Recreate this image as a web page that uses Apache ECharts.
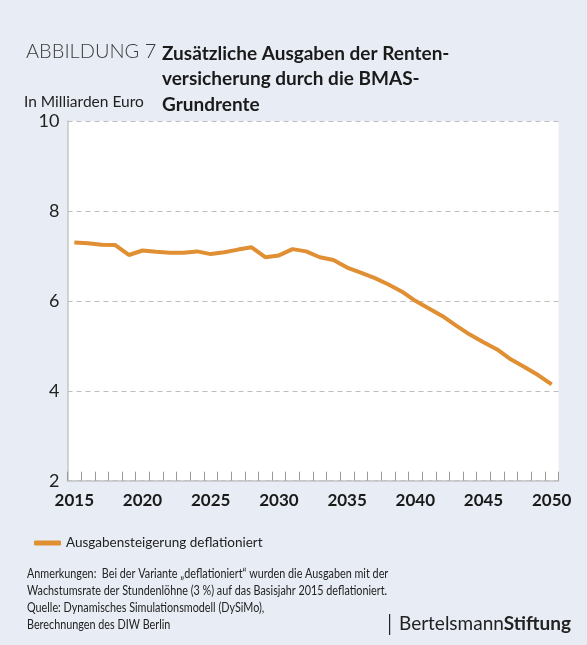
<!DOCTYPE html>
<html>
<head>
<meta charset="UTF-8">
<title>Abbildung 7</title>
<script src="https://cdn.jsdelivr.net/npm/echarts@6/dist/echarts.min.js"></script>
<style>
  html, body { margin: 0; padding: 0; background: #e8edf5; }
  #main { width: 587px; height: 645px; }
</style>
</head>
<body>
<div id="main"></div>
<script type="text/javascript">
// Jahre 2015 - 2050
var years = [];
for (var y = 2015; y <= 2050; y++) { years.push(String(y)); }

// Ausgabensteigerung deflationiert, in Mrd. Euro
var ausgaben = [
  7.30, 7.28, 7.25, 7.24, 7.02, 7.12, 7.09, 7.07, 7.07, 7.10,
  7.04, 7.08, 7.14, 7.19, 6.97, 7.01, 7.15, 7.10, 6.97, 6.91,
  6.74, 6.63, 6.51, 6.37, 6.21, 6.00, 5.83, 5.66, 5.45, 5.25,
  5.08, 4.92, 4.70, 4.53, 4.35, 4.14
];

var yTicks = { min: 2, max: 10, interval: 2 };
var labelYears = ['2015', '2020', '2025', '2030', '2035', '2040', '2045', '2050'];

var notes = [
  'Anmerkungen:  Bei der Variante \u201edeflationiert\u201c wurden die Ausgaben mit der',
  'Wachstumsrate der Stundenl\u00f6hne (3\u202f%) auf das Basisjahr 2015 deflationiert.',
  'Quelle: Dynamisches Simulationsmodell (DySiMo),',
  'Berechnungen des DIW Berlin'
];

var orange = '#e08f33';
var font = 'Lato, "Open Sans", sans-serif';

// Plotbereich
var W = 587, H = 645;
var gl = 67.5, gr = 28.5, gt = 121, gb = 164.3;

var myChart = echarts.init(document.getElementById('main'));

var graphics = [
  // weisser Hintergrund des Plotbereichs
  { type: 'rect', x: gl, y: gt, z: -10, shape: { width: W - gl - gr, height: H - gt - gb }, style: { fill: '#ffffff' } },
  { type: 'text', left: 26, top: 42, style: { text: 'ABBILDUNG 7', font: '300 20px ' + font, fill: '#3a3a3a' } },
  { type: 'text', left: 24, top: 94, style: { text: 'In Milliarden Euro', font: '15.5px ' + font, fill: '#222' } },
  { type: 'text', left: 162, top: 41, style: {
      text: 'Zus\u00e4tzliche Ausgaben der Renten-\nversicherung durch die BMAS-\nGrundrente',
      font: 'bold 19px ' + font, fill: '#1a1a1a', lineHeight: 25.5 } },
  { type: 'rect', left: 389, top: 614, shape: { width: 1.2, height: 21 }, style: { fill: '#222' } },
  { type: 'text', left: 399, top: 614, style: {
      rich: {
        a: { font: '19px ' + font, fill: '#222' },
        b: { font: 'bold 19px ' + font, fill: '#222' }
      },
      text: '{a|Bertelsmann}{b|Stiftung}' } }
];
notes.forEach(function (line, i) {
  graphics.push({ type: 'text', x: 27, y: 567 + i * 16.8, scaleX: 0.8,
    style: { text: line, font: '13.5px ' + font, fill: '#222' } });
});

var option = {
  backgroundColor: '#e8edf5',
  animation: false,
  graphic: graphics,
  legend: {
    left: 29,
    top: 531,
    icon: 'roundRect',
    itemWidth: 27,
    itemHeight: 5,
    itemGap: 12,
    textStyle: { fontSize: 13.5, color: '#222', fontFamily: font },
    data: ['Ausgabensteigerung deflationiert']
  },
  grid: {
    left: gl,
    right: gr,
    top: gt,
    bottom: gb
  },
  xAxis: {
    type: 'category',
    data: years,
    axisLine: { show: true, lineStyle: { color: '#c4c4c4', width: 1.5 } },
    axisTick: { show: true, inside: true, length: 9, interval: 0, lineStyle: { color: '#999999', width: 1 } },
    axisLabel: {
      interval: function (idx, val) { return labelYears.indexOf(val) >= 0; },
      fontSize: 17,
      fontWeight: 'bold',
      fontFamily: font,
      color: '#1a1a1a',
      margin: 11
    }
  },
  yAxis: {
    type: 'value',
    min: yTicks.min,
    max: yTicks.max,
    interval: yTicks.interval,
    axisLine: { show: true, lineStyle: { color: '#c4c4c4', width: 1.5 } },
    axisTick: { show: false },
    axisLabel: { fontSize: 18, color: '#222', margin: 8, fontFamily: font },
    splitLine: { lineStyle: { color: '#bdbdbd', type: [5, 4], width: 1 } }
  },
  series: [{
    name: 'Ausgabensteigerung deflationiert',
    type: 'line',
    data: ausgaben,
    symbol: 'none',
    lineStyle: { color: orange, width: 4 },
    itemStyle: { color: orange }
  }]
};

myChart.setOption(option);
</script>
</body>
</html>
